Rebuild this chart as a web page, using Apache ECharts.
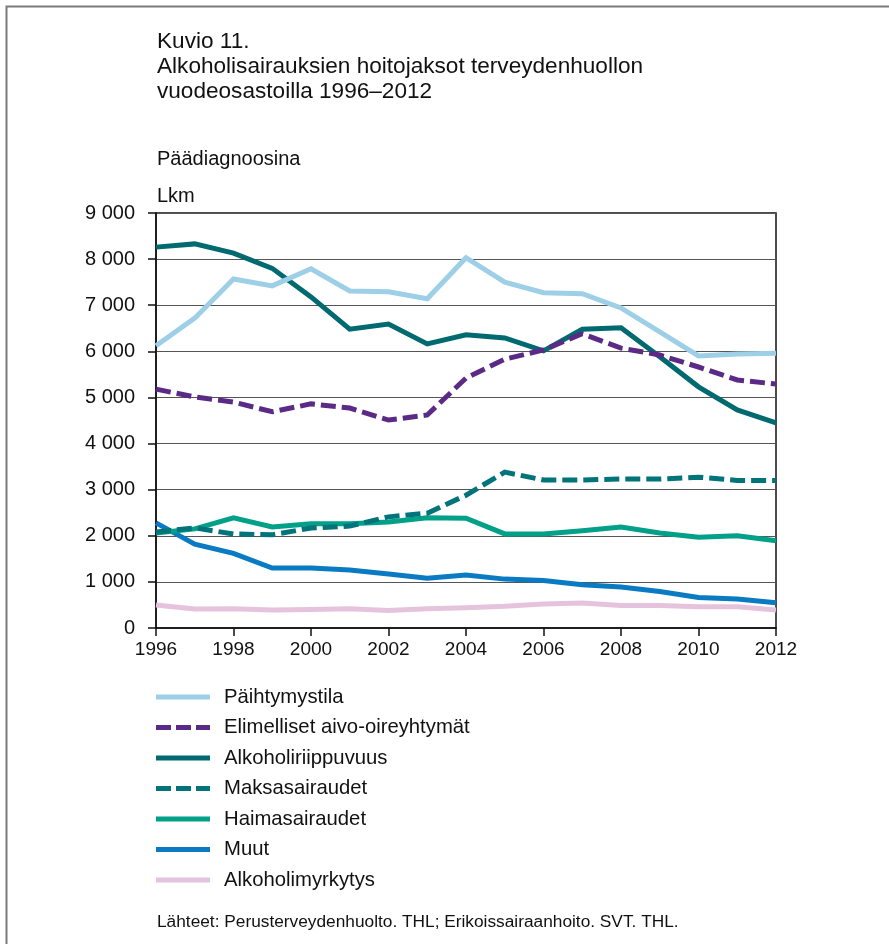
<!DOCTYPE html>
<html>
<head>
<meta charset="utf-8">
<script src="https://cdn.jsdelivr.net/npm/echarts@6/dist/echarts.min.js"></script>
<style>
html,body{margin:0;padding:0;background:#fff;}
#chart{width:889px;height:944px;}
</style>
</head>
<body>
<div id="chart"></div>
<script>
var years = ['1996','1997','1998','1999','2000','2001','2002','2003','2004','2005','2006','2007','2008','2009','2010','2011','2012'];
var yTicks = [0,1000,2000,3000,4000,5000,6000,7000,8000,9000];

var paihtymystila      = [6120,6720,7570,7420,7790,7310,7290,7140,8030,7500,7270,7250,6940,6420,5900,5940,5960];
var elimelliset        = [5180,5010,4900,4690,4860,4770,4510,4620,5420,5830,6030,6380,6070,5920,5660,5380,5290];
var alkoholiriippuvuus = [8260,8330,8130,7800,7180,6480,6590,6160,6360,6290,6010,6480,6510,5880,5230,4730,4450];
var maksasairaudet     = [2080,2170,2040,2020,2170,2210,2410,2490,2880,3380,3210,3210,3230,3230,3270,3200,3200];
var haimasairaudet     = [2060,2150,2390,2190,2260,2260,2300,2390,2380,2040,2040,2110,2190,2060,1970,2000,1890];
var muut               = [2280,1820,1620,1300,1300,1260,1170,1080,1150,1060,1030,940,890,790,660,630,550];
var alkoholimyrkytys   = [500,410,420,390,400,420,380,420,440,470,520,540,490,490,460,460,390];

var seriesNames = ['Päihtymystila','Elimelliset aivo-oireyhtymät','Alkoholiriippuvuus','Maksasairaudet','Haimasairaudet','Muut','Alkoholimyrkytys'];
var seriesData = [paihtymystila, elimelliset, alkoholiriippuvuus, maksasairaudet, haimasairaudet, muut, alkoholimyrkytys];
var seriesColors = ['#9dcfe7','#5b2a86','#006a70','#00737b','#00a089','#0a7bc3','#e6c3dd'];
var seriesDashed = [false,true,false,true,false,false,false];

var titleLines = ['Kuvio 11.','Alkoholisairauksien hoitojaksot terveydenhuollon','vuodeosastoilla 1996–2012'];
var subTitle = 'Päädiagnoosina';
var unitLabel = 'Lkm';
var sourceText = 'Lähteet: Perusterveydenhuolto. THL; Erikoissairaanhoito. SVT. THL.';

var FONT = '"Liberation Sans", Arial, Helvetica, sans-serif';

function fmt(v){
  var s = String(v);
  return s.length > 3 ? s.slice(0, s.length-3) + ' ' + s.slice(s.length-3) : s;
}

var ICON_SOLID = 'path://M0,0h54v5h-54z';
var ICON_DASH = 'path://M0,0h15v5h-15z M20,0h15v5h-15z M40,0h14v5h-14z';

var series = seriesNames.map(function(n, i){
  return {
    name: n,
    type: 'line',
    data: seriesData[i],
    symbol: 'none',
    showSymbol: false,
    smooth: false,
    z: 10 - i,
    lineStyle: {
      color: seriesColors[i],
      width: 5,
      type: seriesDashed[i] ? [15, 6] : 'solid',
      cap: 'butt',
      join: 'miter'
    },
    itemStyle: { color: seriesColors[i] }
  };
});

var legendData = seriesNames.map(function(n, i){
  return { name: n, icon: seriesDashed[i] ? ICON_DASH : ICON_SOLID, itemStyle: { color: seriesColors[i] } };
});

var chart = echarts.init(document.getElementById('chart'), null, {renderer: 'canvas'});
chart.setOption({
  animation: false,
  backgroundColor: '#ffffff',
  textStyle: { fontFamily: FONT },
  graphic: [
    { type: 'rect', left: 4, top: 4, shape: { width: 1000, height: 1000 }, style: { fill: 'none', stroke: '#7a7a7a', lineWidth: 2 }, silent: true, z: -10 },
    { type: 'text', left: 157, top: 29, style: { text: titleLines.join('\n'), font: '22.6px ' + FONT, lineHeight: 25, fill: '#111' } },
    { type: 'text', left: 157, top: 149, style: { text: subTitle, font: '20px ' + FONT, fill: '#111' } },
    { type: 'text', left: 157, top: 186, style: { text: unitLabel, font: '20px ' + FONT, fill: '#111' } },
    { type: 'text', left: 157, top: 914, style: { text: sourceText, font: '17.3px ' + FONT, fill: '#111' } }
  ],
  grid: {
    left: 156, right: 113, top: 213, bottom: 316,
    show: true, borderColor: '#111', borderWidth: 1.5, backgroundColor: 'transparent'
  },
  legend: {
    orient: 'vertical',
    left: 156,
    top: 687,
    padding: 0,
    itemWidth: 54,
    itemHeight: 5,
    itemGap: 10.5,
    textStyle: { fontFamily: FONT, fontSize: 20.3, color: '#111', lineHeight: 20, padding: [0, 0, 0, 9] },
    data: legendData,
    selectedMode: false
  },
  xAxis: {
    type: 'category',
    data: years,
    boundaryGap: false,
    axisLine: { show: true, lineStyle: { color: '#111', width: 1.5 } },
    axisTick: { show: true, interval: 1, length: 8, inside: false, lineStyle: { color: '#111', width: 1.5 } },
    axisLabel: { interval: 1, margin: 12, fontSize: 19, color: '#111', fontFamily: FONT },
    splitLine: { show: false }
  },
  yAxis: {
    type: 'value',
    min: yTicks[0],
    max: yTicks[yTicks.length-1],
    interval: 1000,
    axisLine: { show: true, lineStyle: { color: '#111', width: 1.5 } },
    axisTick: { show: true, length: 8, lineStyle: { color: '#111', width: 1.5 } },
    axisLabel: { margin: 21, fontSize: 20, color: '#111', fontFamily: FONT, formatter: fmt },
    splitLine: { show: true, lineStyle: { color: '#555', width: 1.2 } }
  },
  series: series
});
</script>
</body>
</html>
